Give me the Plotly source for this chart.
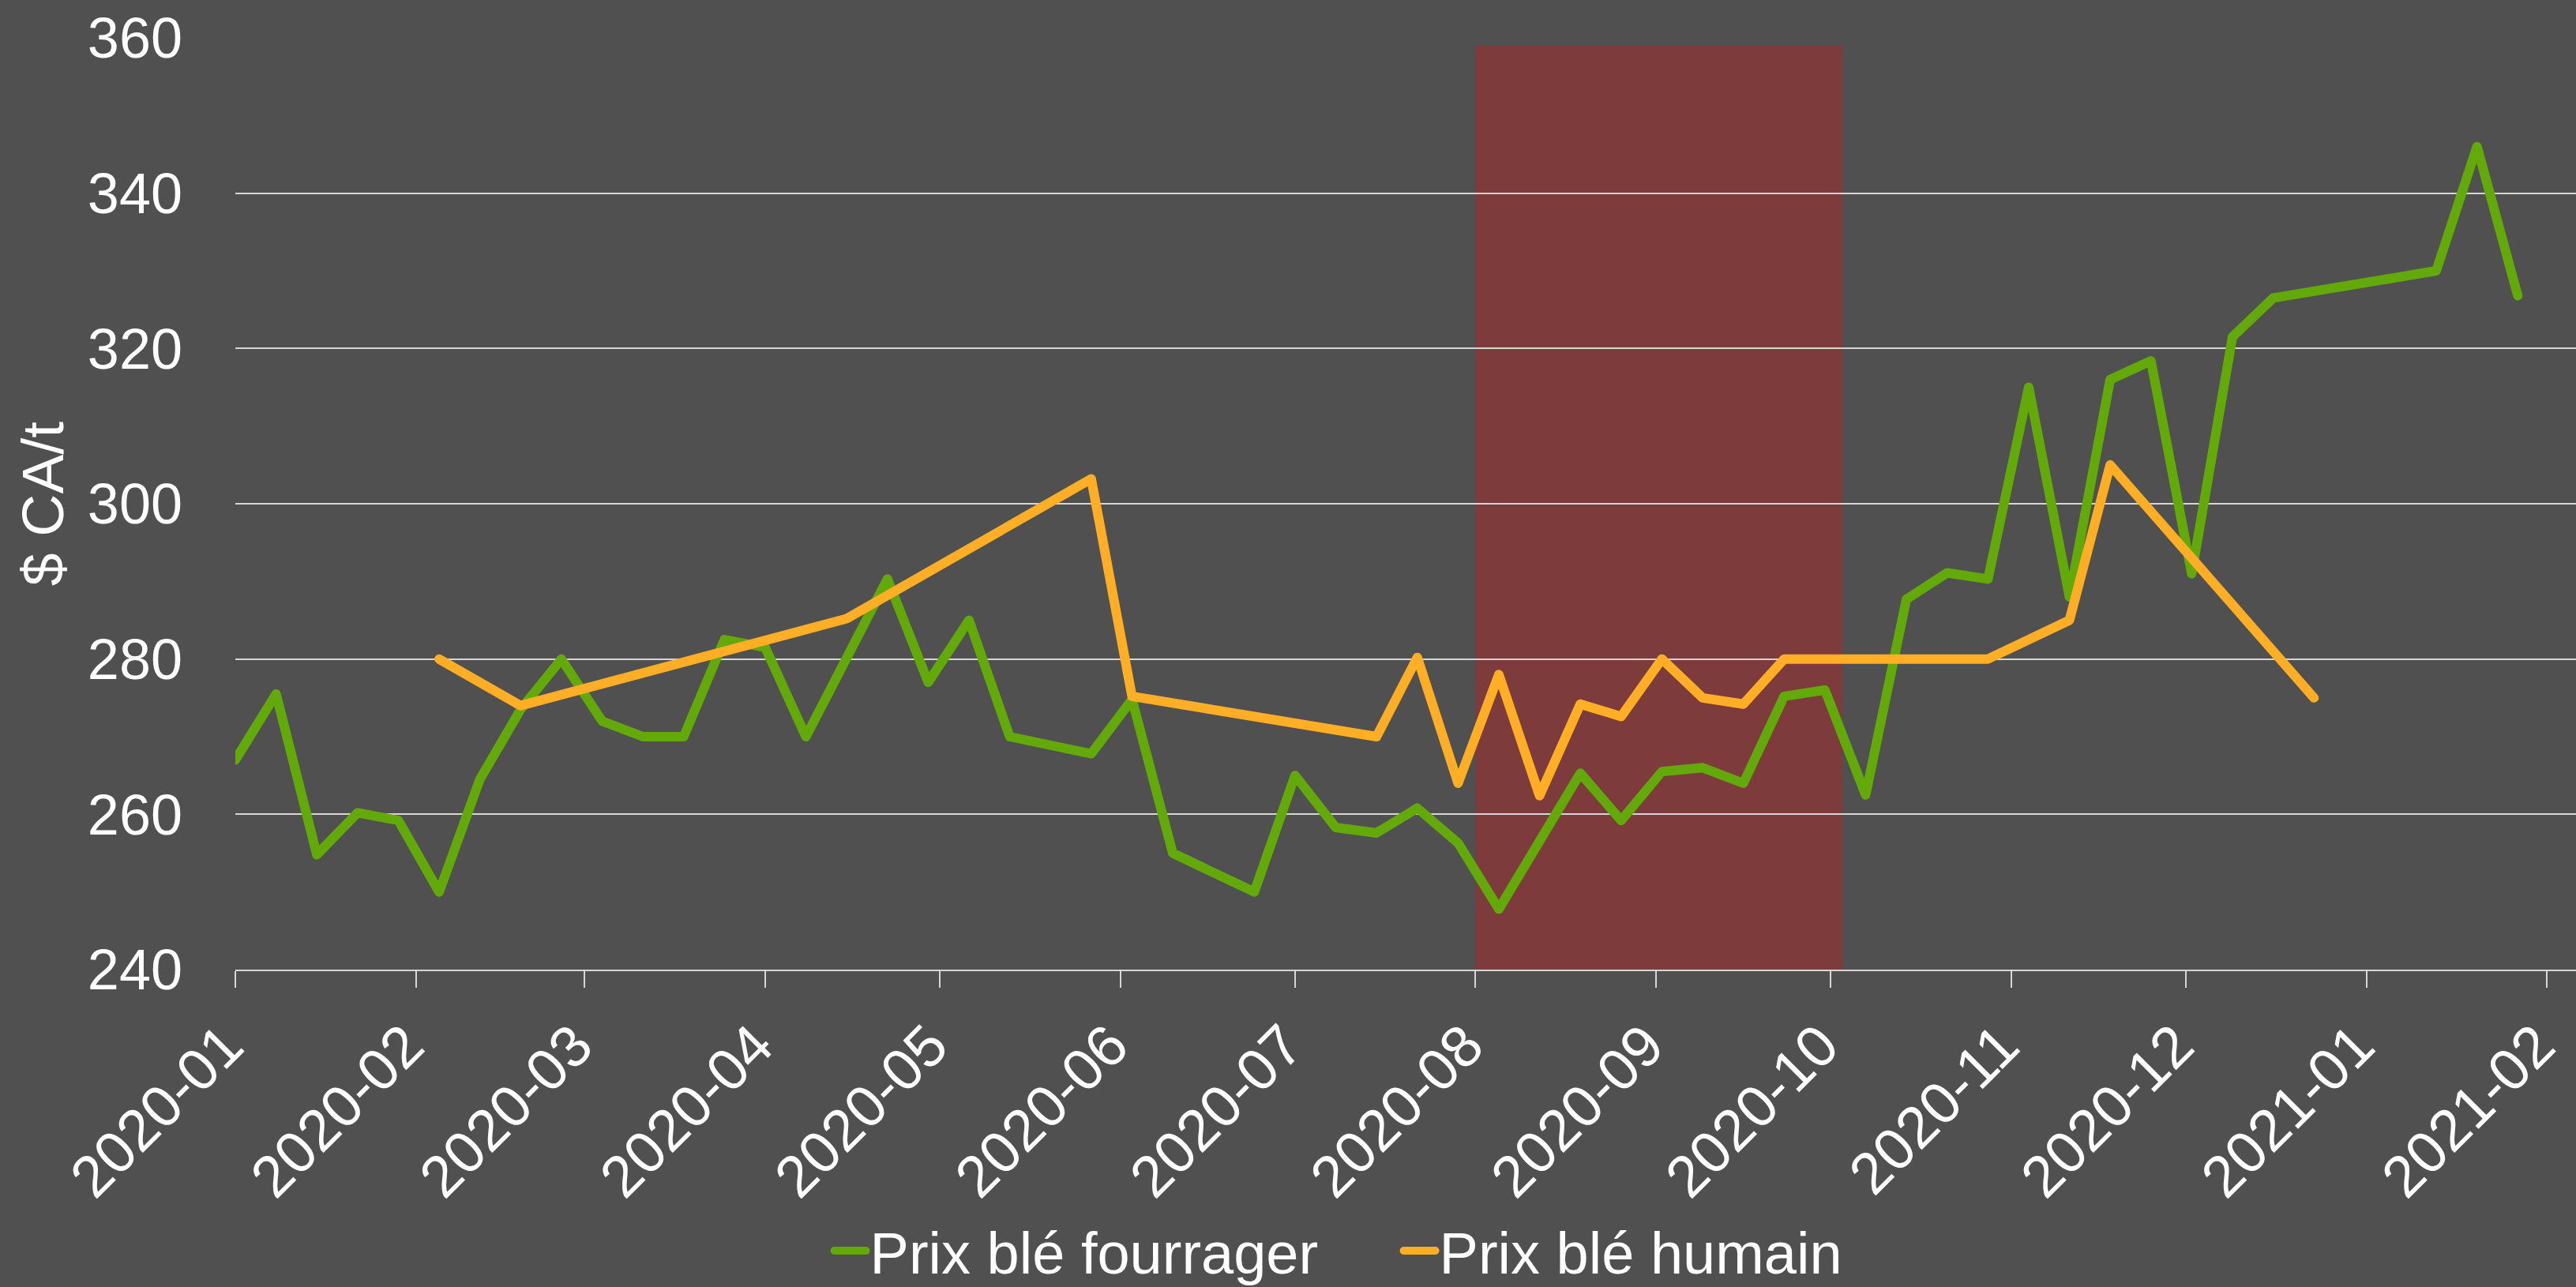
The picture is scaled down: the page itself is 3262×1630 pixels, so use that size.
import plotly.graph_objects as go

# ---- data ----
feed_dates = [
    "2020-01-01", "2020-01-08", "2020-01-15", "2020-01-22", "2020-01-29",
    "2020-02-05", "2020-02-12", "2020-02-19", "2020-02-26", "2020-03-04",
    "2020-03-11", "2020-03-18", "2020-03-25", "2020-04-01", "2020-04-08",
    "2020-04-22", "2020-04-29", "2020-05-06", "2020-05-13", "2020-05-27",
    "2020-06-03", "2020-06-10", "2020-06-24", "2020-07-01", "2020-07-08",
    "2020-07-15", "2020-07-22", "2020-07-29", "2020-08-05", "2020-08-19",
    "2020-08-26", "2020-09-02", "2020-09-09", "2020-09-16", "2020-09-23",
    "2020-09-30", "2020-10-07", "2020-10-14", "2020-10-21", "2020-10-28",
    "2020-11-04", "2020-11-11", "2020-11-18", "2020-11-25", "2020-12-02",
    "2020-12-09", "2020-12-16", "2021-01-13", "2021-01-20", "2021-01-27",
]
feed_prices = [
    267.0, 275.5, 254.8, 260.2, 259.2,
    250.0, 264.5, 273.5, 280.0, 272.0,
    270.0, 270.0, 282.5, 281.5, 270.0,
    290.3, 277.0, 285.0, 270.0, 267.8,
    274.8, 255.0, 250.0, 265.0, 258.3,
    257.6, 260.8, 256.3, 247.8, 265.3,
    259.2, 265.5, 266.0, 264.0, 275.2,
    276.0, 262.5, 287.7, 291.1, 290.3,
    315.0, 288.0, 316.0, 318.4, 291.0,
    321.5, 326.5, 330.0, 346.0, 326.8,
]

milling_dates = [
    "2020-02-05", "2020-02-19", "2020-04-15", "2020-05-27", "2020-06-03",
    "2020-07-15", "2020-07-22", "2020-07-29", "2020-08-05", "2020-08-12",
    "2020-08-19", "2020-08-26", "2020-09-02", "2020-09-09", "2020-09-16",
    "2020-09-23", "2020-10-28", "2020-11-11", "2020-11-18", "2020-12-23",
]
milling_prices = [
    280.0, 274.0, 285.2, 303.2, 275.2,
    270.0, 280.2, 264.0, 278.0, 262.4,
    274.2, 272.6, 280.0, 275.0, 274.2,
    280.0, 280.0, 285.0, 305.0, 275.0,
]

series_names = ["Prix blé fourrager", "Prix blé humain"]
y_title = "$ CA/t"
shade_start = "2020-08-01"
shade_end = "2020-10-03"
shade_top = 359
x_range = ["2020-01-01", "2021-02-06"]
y_range = [240, 360]

# ---- styles ----
GREEN = "#63a90a"
ORANGE = "#ffae25"
BG = "#505050"
GRID = "#d6d6d6"
FONT = "Liberation Sans, Arial, sans-serif"

fig = go.Figure()
fig.add_trace(go.Scatter(
    x=feed_dates, y=feed_prices, mode="lines", name=series_names[0],
    line=dict(color=GREEN, width=12),
))
fig.add_trace(go.Scatter(
    x=milling_dates, y=milling_prices, mode="lines", name=series_names[1],
    line=dict(color=ORANGE, width=12),
))

fig.add_shape(
    type="rect", xref="x", yref="y",
    x0=shade_start, x1=shade_end, y0=y_range[0], y1=shade_top,
    fillcolor="#7d3b3c", line=dict(width=0), layer="below",
)

fig.update_layout(
    width=3262, height=1630,
    margin=dict(l=298, r=0, t=48, b=402, autoexpand=False),
    paper_bgcolor=BG, plot_bgcolor="rgba(0,0,0,0)",
    font=dict(family=FONT, color="white", size=72),
    showlegend=True,
    legend=dict(
        orientation="h", x=0.4975, xanchor="center", y=-0.302, yanchor="middle",
        font=dict(size=74, color="white", family=FONT),
        bgcolor="rgba(0,0,0,0)", itemwidth=40, entrywidth=666,
    ),
    xaxis=dict(
        type="date", range=x_range, dtick="M1", tickformat="%Y-%m",
        tick0="2020-01-01",
        tickangle=-45, showgrid=False, zeroline=False,
        showline=True, linecolor=GRID, linewidth=2,
        ticks="outside", ticklen=21, tickwidth=2, tickcolor=GRID,
        tickfont=dict(size=74, color="white", family=FONT),
        ticklabeloverflow="allow", ticklabelshift=-12,
        automargin=False,
    ),
    yaxis=dict(
        range=y_range, dtick=20, tick0=240,
        showgrid=True, gridcolor=GRID, gridwidth=2,
        zeroline=False, showline=False, ticks="",
        tickfont=dict(size=72, color="white", family=FONT),
        ticklabelstandoff=66,
        title=dict(text=y_title, font=dict(size=75, color="white", family=FONT), standoff=5),
        automargin=False,
    ),
)

js = (
    "document.body.style.margin='0';document.body.style.overflow='hidden';"
    "document.querySelectorAll('path.js-line').forEach(function(p){"
    "p.style.strokeLinejoin='round';p.style.strokeLinecap='round';});"
)

fig.write_html(
    "out.html",
    config={"displayModeBar": False},
    post_script=[js],
)
